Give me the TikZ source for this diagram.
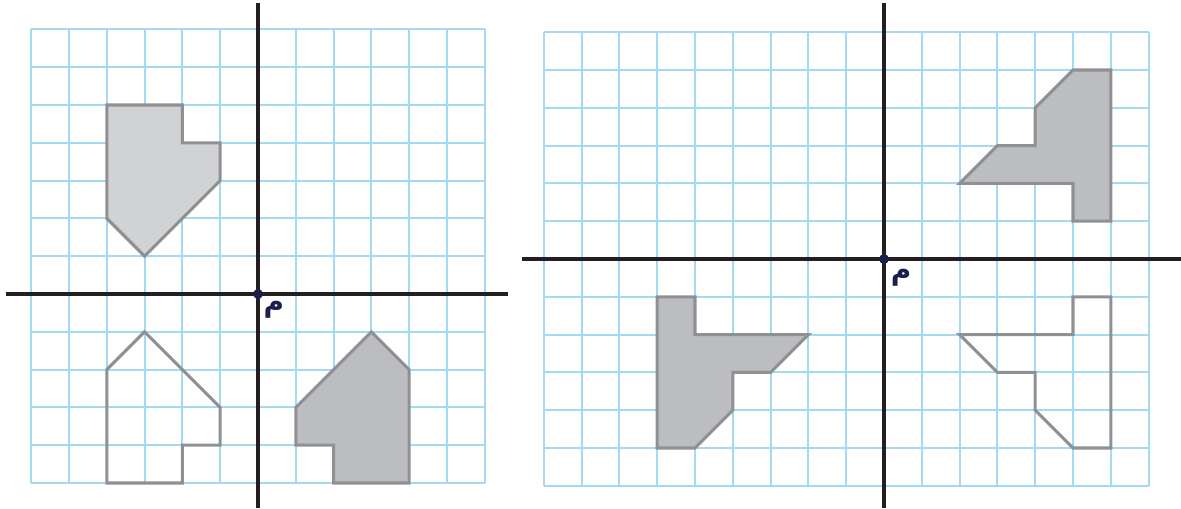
\documentclass[tikz,border=0pt]{standalone}
\usepackage{fontspec}
\newfontfamily\arabicfont[Script=Arabic]{DejaVu Sans}
\TeXXeTstate=1
\definecolor{gridblue}{HTML}{A3DAF2}
\definecolor{edgegray}{HTML}{8F9093}
\definecolor{lightfill}{HTML}{D1D2D4}
\definecolor{darkfill}{HTML}{BCBDC1}
\definecolor{axisink}{HTML}{231F20}
\definecolor{navy}{HTML}{1B1F4B}
\begin{document}
\begin{tikzpicture}
[gridline/.style={gridblue, line width=1.4pt},
 axisline/.style={axisink, line width=2.3pt},
 figedge/.style={edgegray, line width=2.3pt, line join=miter},
 origindot/.style={circle, fill=navy, inner sep=0pt, minimum size=0.26cm},
 meem/.style={navy, inner sep=0pt, font=\arabicfont\bfseries\fontsize{21}{21}\selectfont}]
\useasboundingbox (-6.825,-5.661) rectangle (24.418,7.778);

% left panel
\draw[gridline] (-6,-5) grid (6,7);
\filldraw[figedge, fill=lightfill] (-4,5) -- (-2,5) -- (-2,4) -- (-1,4) -- (-1,3) -- (-3,1) -- (-4,2) -- cycle;
\draw[figedge] (-4,-5) -- (-2,-5) -- (-2,-4) -- (-1,-4) -- (-1,-3) -- (-3,-1) -- (-4,-2) -- cycle;
\filldraw[figedge, fill=darkfill] (4,-5) -- (2,-5) -- (2,-4) -- (1,-4) -- (1,-3) -- (3,-1) -- (4,-2) -- cycle;
\draw[axisline] (-6.67,0) -- (6.62,0);
\draw[axisline] (0,7.7) -- (0,-5.661);
\node (O1) at (0,0) [origindot] {};
\node (M1) at (0.42,-0.42) [meem] {\beginR م\endR};

% right panel
\begin{scope}[shift={(16.561,0.926)}]
\draw[gridline] (-9,-6) grid (7,6);
\filldraw[figedge, fill=darkfill] (2,2) -- (3,3) -- (4,3) -- (4,4) -- (5,5) -- (6,5) -- (6,1) -- (5,1) -- (5,2) -- cycle;
\filldraw[figedge, fill=darkfill] (-6,-1) -- (-5,-1) -- (-5,-2) -- (-2,-2) -- (-3,-3) -- (-4,-3) -- (-4,-4) -- (-5,-5) -- (-6,-5) -- cycle;
\draw[figedge] (2,-2) -- (5,-2) -- (5,-1) -- (6,-1) -- (6,-5) -- (5,-5) -- (4,-4) -- (4,-3) -- (3,-3) -- cycle;
\draw[axisline] (-9.577,0) -- (7.857,0);
\draw[axisline] (0,6.77) -- (0,-6.587);
\node (O2) at (0,0) [origindot] {};
\node (M2) at (0.45,-0.5) [meem] {\beginR م\endR};
\end{scope}
\end{tikzpicture}
\end{document}
